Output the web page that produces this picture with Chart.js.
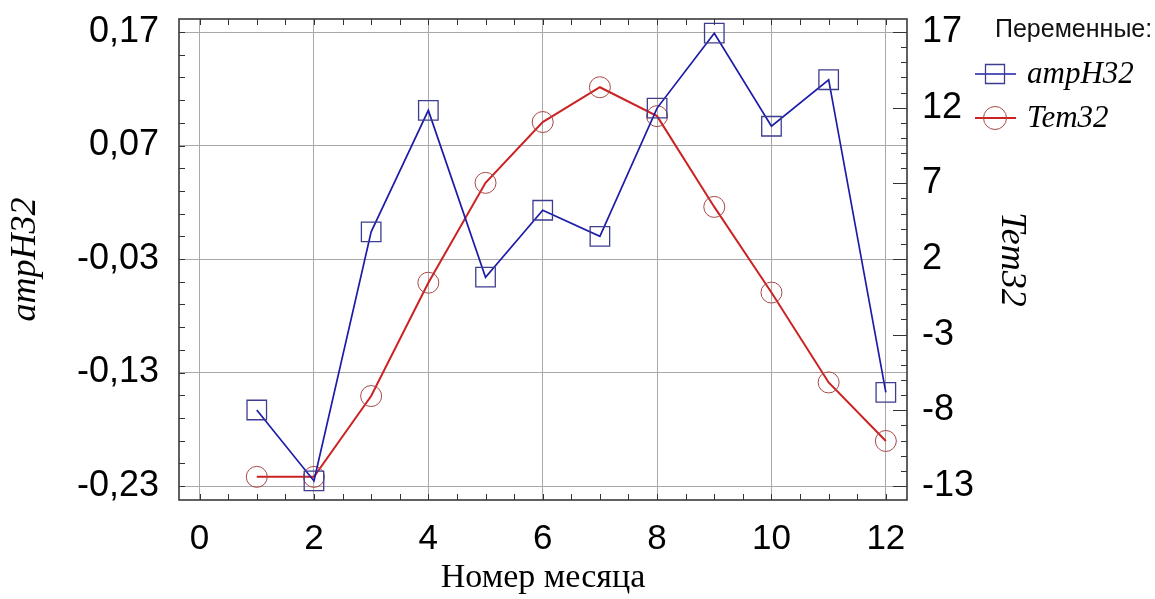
<!DOCTYPE html>
<html>
<head>
<meta charset="utf-8">
<script src="https://cdn.jsdelivr.net/npm/chart.js@4.4.1/dist/chart.umd.min.js"></script>
<style>
  html, body { margin: 0; padding: 0; background: #fff; }
</style>
</head>
<body>
<canvas id="chart" width="1155" height="599"></canvas>
<script>
// values
const months = [1, 2, 3, 4, 5, 6, 7, 8, 9, 10, 11, 12];
const ampH32 = [-0.163, -0.2255, -0.006, 0.101, -0.046, 0.013, -0.010, 0.103, 0.169, 0.087, 0.128, -0.1475];
const tem32 = [-12.4, -12.4, -7.06, 0.43, 7.03, 11.05, 13.35, 11.44, 5.44, -0.22, -6.16, -10.03];

const xTicks = [0, 2, 4, 6, 8, 10, 12];
const leftTicks = [-0.23, -0.13, -0.03, 0.07, 0.17];
const rightTicks = [-13, -8, -3, 2, 7, 12, 17];
const legendTitle = 'Переменные:';

const SANS = "'Liberation Sans', Arial, sans-serif";
const SERIF = "'Liberation Serif', 'Times New Roman', serif";
const GRID = '#a8a8a8';

// inner tick marks, frame and the legend box on the right
const framePlugin = {
  id: 'frame',
  afterDraw(chart) {
    const ctx = chart.ctx;
    const { left, right, top, bottom } = chart.chartArea;
    const xs = chart.scales.x, yl = chart.scales.yL, yr = chart.scales.yR;
    ctx.save();
    ctx.strokeStyle = '#333';
    ctx.lineWidth = 1;
    ctx.beginPath();
    for (let k = 0; k <= 24; k++) {
      const px = Math.round(xs.getPixelForValue(k * 0.5)) + 0.5;
      ctx.moveTo(px, bottom); ctx.lineTo(px, bottom - 6);
      ctx.moveTo(px, top); ctx.lineTo(px, top + 6);
    }
    for (let k = 0; k <= 20; k++) {
      const py = Math.round(yl.getPixelForValue(0.17 - k * 0.02)) + 0.5;
      ctx.moveTo(left, py); ctx.lineTo(left + 6, py);
    }
    for (let v = -13; v <= 17; v++) {
      const py = Math.round(yr.getPixelForValue(v)) + 0.5;
      const len = (v + 13) % 5 === 0 ? 14 : 6;
      ctx.moveTo(right, py); ctx.lineTo(right - len, py);
    }
    ctx.stroke();

    ctx.strokeStyle = '#3a3a3a';
    ctx.lineWidth = 1.6;
    ctx.strokeRect(left, top, right - left, bottom - top);

    // legend
    ctx.fillStyle = '#111';
    ctx.textBaseline = 'alphabetic';
    ctx.textAlign = 'left';
    ctx.font = '25px ' + SANS;
    ctx.fillText(legendTitle, 995, 37);

    const rows = [74, 118];
    chart.data.datasets.forEach((ds, i) => {
      const y = rows[i];
      ctx.strokeStyle = ds.borderColor;
      ctx.lineWidth = ds.borderWidth;
      ctx.beginPath();
      ctx.moveTo(975, y); ctx.lineTo(1016, y);
      ctx.stroke();
      ctx.strokeStyle = ds.pointBorderColor;
      ctx.lineWidth = ds.pointBorderWidth;
      ctx.beginPath();
      if (ds.pointStyle === 'rect') {
        ctx.rect(985.5, y - 9.5, 19, 19);
      } else {
        ctx.arc(995, y, 11.5, 0, Math.PI * 2);
      }
      ctx.stroke();
      ctx.fillStyle = '#000';
      ctx.font = 'italic 31px ' + SERIF;
      ctx.fillText(ds.label, 1027, y + 9);
    });
    ctx.restore();
  }
};

new Chart(document.getElementById('chart'), {
  type: 'line',
  data: {
    datasets: [
      {
        label: 'ampH32',
        data: months.map((m, i) => ({ x: m, y: ampH32[i] })),
        yAxisID: 'yL',
        borderColor: '#1c1ca8',
        borderWidth: 1.7,
        pointStyle: 'rect',
        pointRadius: 13.8,
        pointBorderColor: '#3d3d90',
        pointBorderWidth: 1.3,
        pointBackgroundColor: 'rgba(0,0,0,0)',
        tension: 0
      },
      {
        label: 'Tem32',
        data: months.map((m, i) => ({ x: m, y: tem32[i] })),
        yAxisID: 'yR',
        borderColor: '#cc2222',
        borderWidth: 2,
        pointStyle: 'circle',
        pointRadius: 10.5,
        pointBorderColor: '#a84848',
        pointBorderWidth: 1,
        pointBackgroundColor: 'rgba(0,0,0,0)',
        tension: 0
      }
    ]
  },
  options: {
    responsive: false,
    animation: false,
    devicePixelRatio: 1,
    layout: { padding: { top: 19, right: 118, bottom: 0, left: 0 } },
    plugins: {
      legend: { display: false },
      tooltip: { enabled: false }
    },
    scales: {
      x: {
        type: 'linear',
        min: -0.36, max: 12.37,
        afterBuildTicks: s => { s.ticks = xTicks.map(v => ({ value: v })); },
        ticks: { font: { family: SANS, size: 35 }, color: '#000', padding: 18, maxRotation: 0, autoSkip: false },
        grid: { color: GRID, lineWidth: 1, drawTicks: false },
        border: { display: false },
        title: { display: true, text: 'Номер месяца', color: '#000', font: { family: SERIF, size: 34 }, padding: { top: 0, bottom: 1 } },
        afterFit: s => { s.height = 99; s.paddingLeft = 0; s.paddingRight = 0; }
      },
      yL: {
        position: 'left',
        min: -0.2423, max: 0.1815,
        afterBuildTicks: s => { s.ticks = leftTicks.map(v => ({ value: v })); },
        ticks: {
          font: { family: SANS, size: 36 }, color: '#000', padding: 20,
          callback: v => v.toFixed(2).replace('.', ',')
        },
        grid: { color: GRID, lineWidth: 1, drawTicks: false },
        border: { display: false },
        title: { display: true, text: 'ampH32', color: '#000', font: { family: SERIF, size: 36, style: 'italic' }, padding: { top: 4, bottom: 0 } },
        afterFit: s => { s.width = 179; s.paddingTop = 0; s.paddingBottom = 0; }
      },
      yR: {
        position: 'right',
        min: -13.93, max: 17.86,
        afterBuildTicks: s => { s.ticks = rightTicks.map(v => ({ value: v })); },
        ticks: { font: { family: SANS, size: 36 }, color: '#000', padding: 15 },
        grid: { drawOnChartArea: false, drawTicks: false },
        border: { display: false },
        title: { display: true, text: 'Tem32', color: '#000', font: { family: SERIF, size: 36, style: 'italic' }, padding: { top: 4, bottom: 0 } },
        afterFit: s => { s.width = 130; s.paddingTop = 0; s.paddingBottom = 0; }
      }
    }
  },
  plugins: [framePlugin]
});
</script>
</body>
</html>
